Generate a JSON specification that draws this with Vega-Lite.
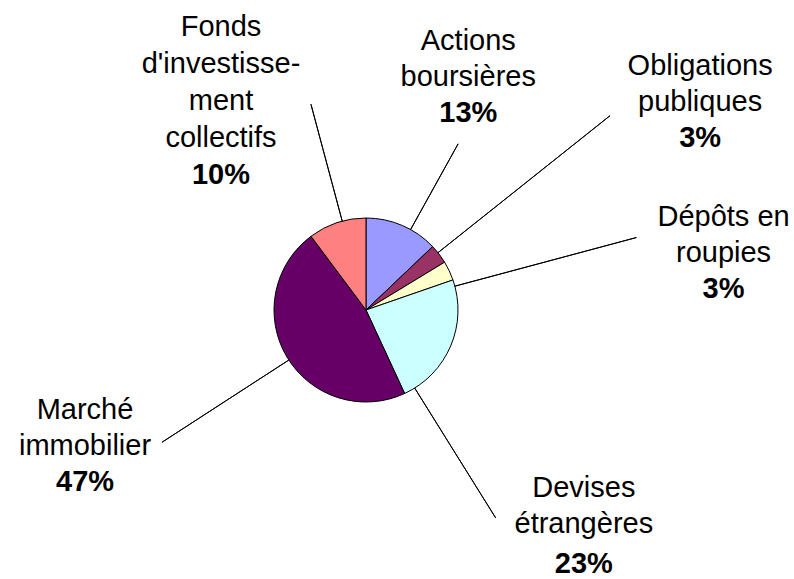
{
  "$schema": "https://vega.github.io/schema/vega-lite/v6.json",
  "autosize": "none",
  "width": 732,
  "height": 538,
  "padding": {"left": 0, "top": 41, "right": 62, "bottom": 0},
  "background": "white",
  "config": {
    "view": {"stroke": null},
    "text": {"font": "Liberation Sans", "fontSize": 29, "color": "black"}
  },
  "data": {
    "values": [
      {"rank": 1, "category": "Actions boursières", "name": "Actions\nboursières", "share": 0.129},
      {"rank": 2, "category": "Obligations publiques", "name": "Obligations\npubliques", "share": 0.034},
      {"rank": 3, "category": "Dépôts en roupies", "name": "Dépôts en\nroupies", "share": 0.034},
      {"rank": 4, "category": "Devises étrangères", "name": "Devises\nétrangères", "share": 0.234},
      {"rank": 5, "category": "Marché immobilier", "name": "Marché\nimmobilier", "share": 0.467},
      {"rank": 6, "category": "Fonds d'investissement collectifs", "name": "Fonds\nd'investisse-\nment\ncollectifs", "share": 0.102}
    ]
  },
  "encoding": {
    "theta": {"field": "share", "type": "quantitative", "stack": true},
    "order": {"field": "rank", "type": "quantitative"},
    "detail": {"field": "category", "type": "nominal"}
  },
  "layer": [
    {
      "mark": {"type": "arc", "radius": 92, "stroke": "black", "strokeWidth": 1},
      "encoding": {
        "color": {
          "field": "category", "type": "nominal", "legend": null,
          "scale": {
            "domain": ["Actions boursières", "Obligations publiques", "Dépôts en roupies", "Devises étrangères", "Marché immobilier", "Fonds d'investissement collectifs"],
            "range": ["#9999FF", "#993366", "#FFFFCC", "#CCFFFF", "#660066", "#FF8080"]
          }
        }
      }
    },
    {
      "mark": {"type": "arc", "filled": false, "radius": 190, "radius2": 92, "padAngle": 3.2, "stroke": "black", "strokeWidth": 1, "thetaOffset": 0.101, "theta2Offset": 0.101},
      "encoding": {"strokeOpacity": {"condition": {"test": "datum.rank === 1", "value": 1}, "value": 0}}
    },
    {
      "mark": {"type": "arc", "filled": false, "radius": 312, "radius2": 92, "padAngle": 3.2, "stroke": "black", "strokeWidth": 1, "thetaOffset": -0.019, "theta2Offset": -0.019},
      "encoding": {"strokeOpacity": {"condition": {"test": "datum.rank === 2", "value": 1}, "value": 0}}
    },
    {
      "mark": {"type": "arc", "filled": false, "radius": 280, "radius2": 92, "padAngle": 3.2, "stroke": "black", "strokeWidth": 1, "thetaOffset": 0.178, "theta2Offset": 0.178},
      "encoding": {"strokeOpacity": {"condition": {"test": "datum.rank === 3", "value": 1}, "value": 0}}
    },
    {
      "mark": {"type": "arc", "filled": false, "radius": 245, "radius2": 92, "padAngle": 3.2, "stroke": "black", "strokeWidth": 1, "thetaOffset": 0.611, "theta2Offset": 0.611},
      "encoding": {"strokeOpacity": {"condition": {"test": "datum.rank === 4", "value": 1}, "value": 0}}
    },
    {
      "mark": {"type": "arc", "filled": false, "radius": 243, "radius2": 92, "padAngle": 3.2, "stroke": "black", "strokeWidth": 1, "thetaOffset": -0.038, "theta2Offset": -0.038},
      "encoding": {"strokeOpacity": {"condition": {"test": "datum.rank === 5", "value": 1}, "value": 0}}
    },
    {
      "mark": {"type": "arc", "filled": false, "radius": 213, "radius2": 92, "padAngle": 3.2, "stroke": "black", "strokeWidth": 1, "thetaOffset": 0.059, "theta2Offset": 0.059},
      "encoding": {"strokeOpacity": {"condition": {"test": "datum.rank === 6", "value": 1}, "value": 0}}
    },
    {
      "mark": {"type": "text", "radius": 241, "thetaOffset": 0.033, "baseline": "bottom", "align": "center", "dy": -36, "lineBreak": "\n", "lineHeight": 36},
      "encoding": {"text": {"condition": {"test": "datum.rank === 1", "field": "name", "type": "nominal"}, "value": ""}}
    },
    {
      "mark": {"type": "text", "radius": 241, "thetaOffset": 0.033, "baseline": "alphabetic", "align": "center", "dy": 30, "fontWeight": "bold"},
      "encoding": {"text": {"condition": {"test": "datum.rank === 1", "field": "share", "type": "quantitative", "format": ".0%"}, "value": ""}}
    },
    {
      "mark": {"type": "text", "radius": 386, "thetaOffset": 0.129, "baseline": "bottom", "align": "center", "dy": -36, "lineBreak": "\n", "lineHeight": 36},
      "encoding": {"text": {"condition": {"test": "datum.rank === 2", "field": "name", "type": "nominal"}, "value": ""}}
    },
    {
      "mark": {"type": "text", "radius": 386, "thetaOffset": 0.129, "baseline": "alphabetic", "align": "center", "dy": 30, "fontWeight": "bold"},
      "encoding": {"text": {"condition": {"test": "datum.rank === 2", "field": "share", "type": "quantitative", "format": ".0%"}, "value": ""}}
    },
    {
      "mark": {"type": "text", "radius": 360, "thetaOffset": 0.323, "baseline": "bottom", "align": "center", "dy": -36, "lineBreak": "\n", "lineHeight": 36},
      "encoding": {"text": {"condition": {"test": "datum.rank === 3", "field": "name", "type": "nominal"}, "value": ""}}
    },
    {
      "mark": {"type": "text", "radius": 360, "thetaOffset": 0.323, "baseline": "alphabetic", "align": "center", "dy": 30, "fontWeight": "bold"},
      "encoding": {"text": {"condition": {"test": "datum.rank === 3", "field": "share", "type": "quantitative", "format": ".0%"}, "value": ""}}
    },
    {
      "mark": {"type": "text", "radius": 316, "thetaOffset": 0.408, "baseline": "bottom", "align": "center", "dy": -36, "lineBreak": "\n", "lineHeight": 36},
      "encoding": {"text": {"condition": {"test": "datum.rank === 4", "field": "name", "type": "nominal"}, "value": ""}}
    },
    {
      "mark": {"type": "text", "radius": 316, "thetaOffset": 0.408, "baseline": "alphabetic", "align": "center", "dy": 34, "fontWeight": "bold"},
      "encoding": {"text": {"condition": {"test": "datum.rank === 4", "field": "share", "type": "quantitative", "format": ".0%"}, "value": ""}}
    },
    {
      "mark": {"type": "text", "radius": 319, "thetaOffset": 0.044, "baseline": "bottom", "align": "center", "dy": -36, "lineBreak": "\n", "lineHeight": 36},
      "encoding": {"text": {"condition": {"test": "datum.rank === 5", "field": "name", "type": "nominal"}, "value": ""}}
    },
    {
      "mark": {"type": "text", "radius": 319, "thetaOffset": 0.044, "baseline": "alphabetic", "align": "center", "dy": 30, "fontWeight": "bold"},
      "encoding": {"text": {"condition": {"test": "datum.rank === 5", "field": "share", "type": "quantitative", "format": ".0%"}, "value": ""}}
    },
    {
      "mark": {"type": "text", "radius": 214, "thetaOffset": -0.424, "baseline": "bottom", "align": "center", "dy": -111, "lineBreak": "\n", "lineHeight": 37},
      "encoding": {"text": {"condition": {"test": "datum.rank === 6", "field": "name", "type": "nominal"}, "value": ""}}
    },
    {
      "mark": {"type": "text", "radius": 214, "thetaOffset": -0.424, "baseline": "alphabetic", "align": "center", "dy": 31, "fontWeight": "bold"},
      "encoding": {"text": {"condition": {"test": "datum.rank === 6", "field": "share", "type": "quantitative", "format": ".0%"}, "value": ""}}
    }
  ]
}
